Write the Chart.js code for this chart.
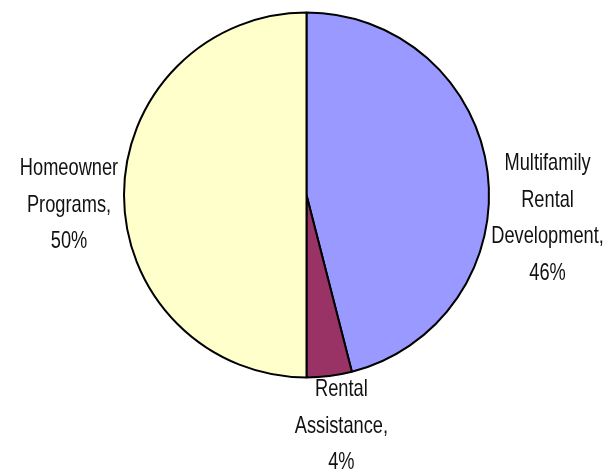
<!DOCTYPE html>
<html>
<head>
<meta charset="utf-8">
<script src="https://cdn.jsdelivr.net/npm/chart.js@4"></script>
<style>
    html, body { margin: 0; padding: 0; background: #fff; }
    #wrap { width: 605px; height: 470px; }
</style>
</head>
<body>
<div id="wrap"><canvas id="myChart" width="605" height="470"></canvas></div>
<script>
// categories, split into the lines they are printed on
var kategorien = [
    ["Multifamily", "Rental", "Development,"],
    ["Rental", "Assistance,"],
    ["Homeowner", "Programs,"]
];
var anteile = [46, 4, 50];
var farben = ["#9999FF", "#993366", "#FFFFCC"];

// label offsets from the outer middle of each slice
var labelVersatz = [{dx: 60, dy: 46}, {dx: 12, dy: 50}, {dx: -55, dy: 10}];

var labelPlugin = {
    id: 'pieLabels',
    afterDatasetsDraw: function (chart) {
        var ctx = chart.ctx;
        var meta = chart.getDatasetMeta(0);
        var squeeze = 0.76; // narrow type like the original
        ctx.save();
        ctx.font = "24px 'Liberation Sans', Arial, sans-serif";
        ctx.fillStyle = "#111";
        ctx.textAlign = "center";
        ctx.textBaseline = "middle";
        var lineH = 36.5;
        meta.data.forEach(function (arc, i) {
            var p = arc.getProps(['x', 'y', 'startAngle', 'endAngle', 'outerRadius'], true);
            var mid = (p.startAngle + p.endAngle) / 2;
            var ax = p.x + Math.cos(mid) * p.outerRadius;
            var ay = p.y + Math.sin(mid) * p.outerRadius;
            var lines = kategorien[i].concat([anteile[i] + "%"]);
            var v = labelVersatz[i];
            var cx = ax + v.dx;
            var cy = ay + v.dy;
            var top = cy - (lines.length - 1) * lineH / 2;
            lines.forEach(function (t, k) {
                ctx.save();
                ctx.translate(cx, top + k * lineH);
                ctx.scale(squeeze, 1);
                ctx.fillText(t, 0, 0);
                ctx.restore();
            });
        });
        ctx.restore();
    }
};

var canvas = document.getElementById('myChart');
var mychart = new Chart(canvas, {
    type: 'pie',
    data: {
        labels: kategorien.map(function (l) { return l.join(" "); }),
        datasets: [{
                data: anteile,
                backgroundColor: farben,
                borderColor: "#000",
                borderWidth: 2
            }
        ]
    },
    options: {
        responsive: false,
        animation: false,
        layout: {
            padding: {left: 123, right: 115, top: 11, bottom: 91}
        },
        plugins: {
            legend: {display: false},
            tooltip: {enabled: false}
        }
    },
    plugins: [labelPlugin]
});
</script>
</body>
</html>
